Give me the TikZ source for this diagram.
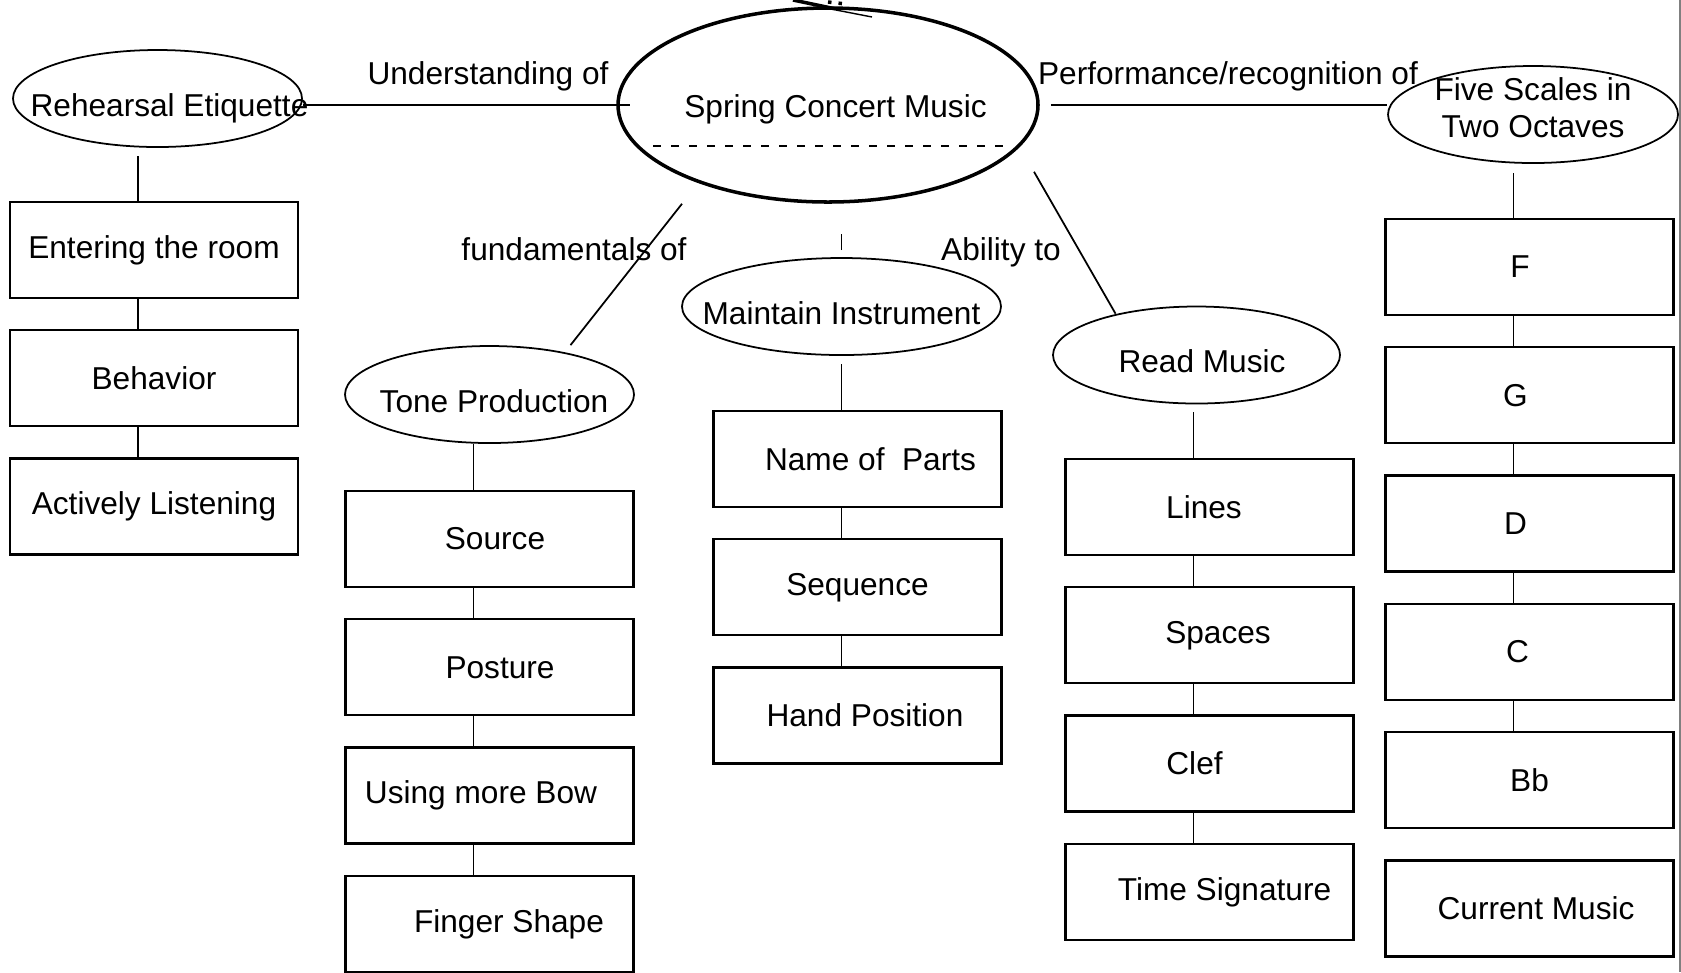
\documentclass[tikz,border=0pt]{standalone}
\usepackage{fontspec}
\setmainfont{Liberation Sans}
\usetikzlibrary{positioning,shapes.geometric}

\tikzset{
	bubble/.style={ellipse, draw, line width=0.5pt, inner xsep=-0.6cm, inner ysep=0pt, minimum height=0.97cm,
		text height=10pt, text depth=0pt},
	topic/.style={bubble, line width=1pt, text height=7pt},
	box/.style={rectangle, draw, line width=0.65pt, minimum width=2.88cm, minimum height=0.96cm, inner sep=0pt},
	link/.style={line width=0.5pt},
}

\begin{document}
\begin{tikzpicture}[font=\fontsize{9}{10.5}\selectfont, node distance=0.3cm]

		\useasboundingbox (0,0) rectangle (16.81,-9.72);

		% main topic and the branches
		\node[topic, minimum width=4.20cm, minimum height=1.94cm] (spring) at (8.28,-1.05) {\hspace*{0.15cm}Spring Concert Music};

		\node[bubble, minimum width=2.89cm] (rehearsal) at (1.575,-0.985) {\hspace*{0.24cm}Rehearsal Etiquette};
		\node[bubble, minimum width=2.90cm, align=center, inner ysep=-0.05cm, text height=13.24pt] (scales) at (15.33,-1.145) {Five Scales in\\Two Octaves};
		\node[bubble, minimum width=2.89cm] (tone) at (4.895,-3.945) {\hspace*{0.09cm}Tone Production};
		\node[bubble, minimum width=3.19cm] (maintain) at (8.415,-3.065) {Maintain Instrument};
		\node[bubble, minimum width=2.87cm] (read) at (11.965,-3.55) {\hspace*{0.11cm}Read Music};

		% link labels
		\node (understanding) at (4.88,-0.76) {Understanding of};
		\node (performance) at (12.28,-0.76) {Performance/recognition of};
		\node (fundamentals) at (5.74,-2.49) {fundamentals of};
		\node (ability) at (10.01,-2.52) {Ability to};

		% columns of boxes
		\node[box] (entering) at (1.54,-2.50) {Entering the room};
		\node[box, below=of entering] (behavior) {Behavior};
		\node[box, below=of behavior] (listening) {Actively Listening};

		\node[box] (source) at (4.895,-5.39) {\hspace*{0.11cm}Source};
		\node[box, below=of source] (posture) {\hspace*{0.21cm}Posture};
		\node[box, below=of posture] (bow) {Using more Bow\hspace*{0.17cm}};
		\node[box, below=of bow] (finger) {\hspace*{0.39cm}Finger Shape};

		\node[box] (parts) at (8.575,-4.59) {\hspace*{0.26cm}Name of\ \ Parts};
		\node[box, below=of parts] (sequence) {Sequence};
		\node[box, below=of sequence] (hand) {\hspace*{0.15cm}Hand Position};

		\node[box] (lines) at (12.095,-5.07) {Lines\hspace*{0.11cm}};
		\node[box, below=of lines] (spaces) {\hspace*{0.17cm}Spaces};
		\node[box, below=of spaces] (clef) {Clef\hspace*{0.30cm}};
		\node[box, below=of clef] (timesig) {\hspace*{0.30cm}Time Signature};

		\node[box] (scaleF) at (15.295,-2.67) {F\hspace*{0.19cm}};
		\node[box, below=of scaleF] (scaleG) {G\hspace*{0.28cm}};
		\node[box, below=of scaleG] (scaleD) {D\hspace*{0.28cm}};
		\node[box, below=of scaleD] (scaleC) {C\hspace*{0.24cm}};
		\node[box, below=of scaleC] (scaleBb) {Bb};
		\node[box, below=of scaleBb] (current) {\hspace*{0.13cm}Current Music};

		% links from the main topic
		\draw[link] (rehearsal.east |- spring.center) -- ([xshift=1.4mm]spring.west);
		\draw[link] ([xshift=1.1mm]spring.east) -- (spring.east -| scales.west);
		\draw[link] ([xshift=-14.6mm]spring.south) -- ([xshift=8.1mm]tone.north);
		\draw[link] ([shift={(20.6mm,3.2mm)}]spring.south) -- ([shift={(-8.1mm,-0.8mm)}]read.north);
		\draw[link] ([yshift=0.7mm]maintain.north) -- ++(0,1.6mm);

		\draw[line width=0.5pt, dash pattern=on 0.08cm off 0.1cm]
			([shift={(-1.75,-0.41)}]spring.center) -- ([shift={(1.82,-0.41)}]spring.center);

		% branch to first box
		\foreach \a/\b/\g in {rehearsal/entering/0.08, tone/source/0, maintain/parts/0.08, read/lines/0.08, scales/scaleF/0.09}
			\draw[link, shorten >=\g cm] ([xshift=-1.6mm]\b.north) -- ([xshift=-1.6mm]\b.north |- \a.south);

		% box to box
		\foreach \a/\b in {entering/behavior, behavior/listening, source/posture, posture/bow, bow/finger,
			parts/sequence, sequence/hand, lines/spaces, spaces/clef, clef/timesig,
			scaleF/scaleG, scaleG/scaleD, scaleD/scaleC, scaleC/scaleBb}
			\draw[link] ([xshift=-1.6mm]\a.south) -- ([xshift=-1.6mm]\b.north);

		% cut-off strokes at the top edge
		\draw[line width=1pt] (7.93,0) -- (8.36,-0.09);
		\draw[line width=0.4pt] (8.36,-0.10) -- (8.72,-0.17);
		\draw[line width=1pt, dotted] (8.28,-0.02) -- (8.46,-0.04);

		\draw[gray, line width=0.5pt] (16.80,0) -- (16.80,-9.72);

\end{tikzpicture}
\end{document}
